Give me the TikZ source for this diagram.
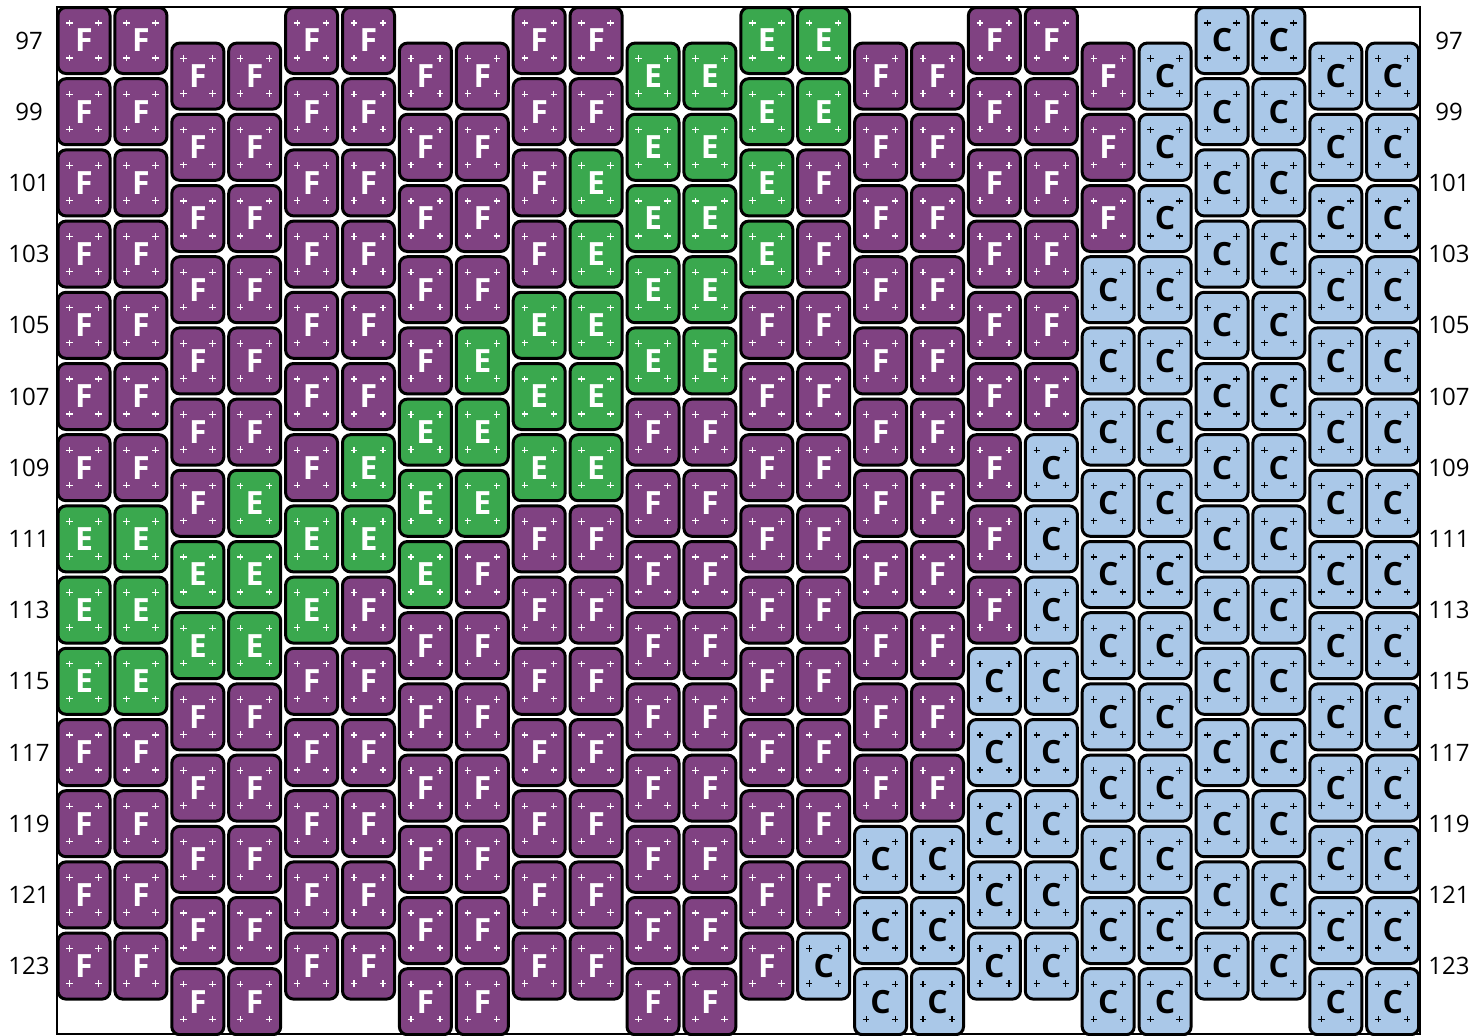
\documentclass[tikz,border=0pt]{standalone}
\usepackage{fontspec}
\setmainfont{Open Sans}
\definecolor{colF}{RGB}{128,66,130}
\definecolor{colE}{RGB}{58,168,78}
\definecolor{colC}{RGB}{170,200,232}
\tikzset{
  tile/.style={draw=black, line width=3pt, rounded corners=8pt,
    minimum width=52pt, minimum height=66pt, inner sep=0pt,
    font=\fontsize{32}{32}\selectfont\bfseries},
  tileF/.style={fill=colF, text=white},
  tileE/.style={fill=colE, text=white},
  tileC/.style={fill=colC, text=black},
  plusF/.style={draw=white, line width=1.2pt},
  plusE/.style={draw=white, line width=1.2pt},
  plusC/.style={draw=black, line width=1.2pt},
  lab/.style={font=\fontsize{24}{24}\selectfont, text=black, inner sep=0pt},
  frame/.style={draw=black, line width=2pt}
}
\begin{document}
\begin{tikzpicture}[x=1pt,y=-1pt]
\useasboundingbox (0,0) rectangle (1473,1036);
\foreach \c/\o/\s in {
 0/0/{F,F,F,F,F,F,F,E,E,E,F,F,F,F},
 1/0/{F,F,F,F,F,F,F,E,E,E,F,F,F,F},
 2/1/{F,F,F,F,F,F,F,E,E,F,F,F,F,F},
 3/1/{F,F,F,F,F,F,E,E,E,F,F,F,F,F},
 4/0/{F,F,F,F,F,F,F,E,E,F,F,F,F,F},
 5/0/{F,F,F,F,F,F,E,E,F,F,F,F,F,F},
 6/1/{F,F,F,F,F,E,E,E,F,F,F,F,F,F},
 7/1/{F,F,F,F,E,E,E,F,F,F,F,F,F,F},
 8/0/{F,F,F,F,E,E,E,F,F,F,F,F,F,F},
 9/0/{F,F,E,E,E,E,E,F,F,F,F,F,F,F},
 10/1/{E,E,E,E,E,F,F,F,F,F,F,F,F,F},
 11/1/{E,E,E,E,E,F,F,F,F,F,F,F,F,F},
 12/0/{E,E,E,E,F,F,F,F,F,F,F,F,F,F},
 13/0/{E,E,F,F,F,F,F,F,F,F,F,F,F,C},
 14/1/{F,F,F,F,F,F,F,F,F,F,F,C,C,C},
 15/1/{F,F,F,F,F,F,F,F,F,F,F,C,C,C},
 16/0/{F,F,F,F,F,F,F,F,F,C,C,C,C,C},
 17/0/{F,F,F,F,F,F,C,C,C,C,C,C,C,C},
 18/1/{F,F,F,C,C,C,C,C,C,C,C,C,C,C},
 19/1/{C,C,C,C,C,C,C,C,C,C,C,C,C,C},
 20/0/{C,C,C,C,C,C,C,C,C,C,C,C,C,C},
 21/0/{C,C,C,C,C,C,C,C,C,C,C,C,C,C},
 22/1/{C,C,C,C,C,C,C,C,C,C,C,C,C,C},
 23/1/{C,C,C,C,C,C,C,C,C,C,C,C,C,C}} {
  \foreach \t [count=\r from 0] in \s {
    \node[tile, tile\t] (t-\c-\r) at ({84+56.9*\c},{40.5+71.2*\r+35.6*\o}) {\t};
    \foreach \dx in {-14.5,14.5} {
      \foreach \dy in {-17.5,17.5} {
        \draw[plus\t] ([shift={(\dx-3.2,\dy)}]t-\c-\r.center) -- ++(6.4,0)
                      ([shift={(\dx,\dy-3.2)}]t-\c-\r.center) -- ++(0,6.4);
      }
    }
  }
}
\foreach \v [count=\j from 0] in {97,99,...,123} {
  \node[lab] (l-\j) at (29,{40.5+71.2*\j}) {\v};
  \node[lab] (r-\j) at (1449,{40.5+71.2*\j}) {\v};
}
\draw[frame] (57,7) rectangle (1420,1034);
\end{tikzpicture}
\end{document}
